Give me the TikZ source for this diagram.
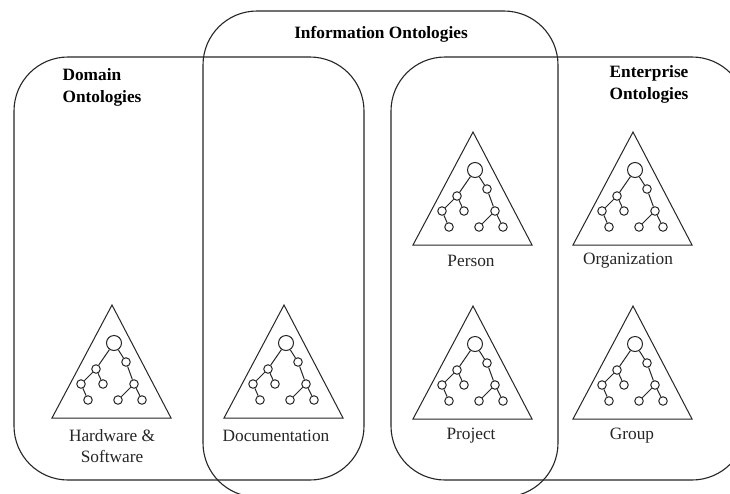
\documentclass[tikz,border=0pt]{standalone}
\usepackage{fontspec}
\setmainfont{Liberation Serif}
\definecolor{ink}{gray}{0.15}
\tikzset{
  x=1pt,y=-1pt,
  regionbox/.style={draw=ink,line width=1.1pt,rounded corners=54pt},
  rootnode/.style={circle,draw=ink,line width=1pt,fill=white,minimum size=15pt,inner sep=0pt},
  leafnode/.style={circle,draw=ink,line width=1pt,fill=white,minimum size=8.5pt,inner sep=0pt},
  tri/.style={draw=ink,line width=1pt,line join=miter},
  edge/.style={draw=ink,line width=1pt},
  lbl/.style={font=\fontsize{17.3}{21}\selectfont,text=ink,align=center,inner sep=0pt},
  ttl/.style={font=\bfseries\fontsize{17.3}{22}\selectfont,text=black,inner sep=0pt}
}
\newcommand{\ontotree}[3]{%
  \begin{scope}[shift={(#2,#3)}]
    \draw[tri] (0,0) -- (59,113) -- (-60,113) -- cycle;
    \node[rootnode] (#1r) at (2,38) {};
    \node[leafnode] (#1a) at (-16,64) {};
    \node[leafnode] (#1b) at (14,57) {};
    \node[leafnode] (#1c) at (-31,79) {};
    \node[leafnode] (#1d) at (-9,79) {};
    \node[leafnode] (#1e) at (22,79) {};
    \node[leafnode] (#1f) at (-24,95) {};
    \node[leafnode] (#1g) at (6,95) {};
    \node[leafnode] (#1h) at (30,95) {};
    \draw[edge] (#1r) -- (#1a);
    \draw[edge] (#1r) -- (#1b);
    \draw[edge] (#1a) -- (#1c);
    \draw[edge] (#1a) -- (#1d);
    \draw[edge] (#1c) -- (#1f);
    \draw[edge] (#1b) -- (#1e);
    \draw[edge] (#1e) -- (#1g);
    \draw[edge] (#1e) -- (#1h);
  \end{scope}}
\begin{document}
\begin{tikzpicture}
\clip (0,0) rectangle (730,493);
\fill[white] (0,0) rectangle (730,493);
\draw[regionbox] (14,57) rectangle (364,480);
\draw[regionbox] (203,11) rectangle (558,497);
\draw[regionbox] (391,57) rectangle (746,480);
\node[ttl,align=center] (tinfo) at (381,34) {Information Ontologies};
\node[ttl,align=left] (tdom) at (102,87) {Domain\\Ontologies};
\node[ttl,align=center] (tent) at (649,84) {Enterprise\\Ontologies};
\ontotree{hw}{112}{305}
\ontotree{doc}{284}{305}
\ontotree{per}{473}{132}
\ontotree{pro}{473}{306}
\ontotree{org}{633}{132}
\ontotree{grp}{633}{306}
\node[lbl] (lhw) at (112,446) {Hardware \&\\Software};
\node[lbl] (ldoc) at (276,436) {Documentation};
\node[lbl] (lper) at (471,261) {Person};
\node[lbl] (lpro) at (471,436) {Project};
\node[lbl] (lorg) at (628,261) {Organization};
\node[lbl] (lgrp) at (632,436) {Group};
\end{tikzpicture}
\end{document}
